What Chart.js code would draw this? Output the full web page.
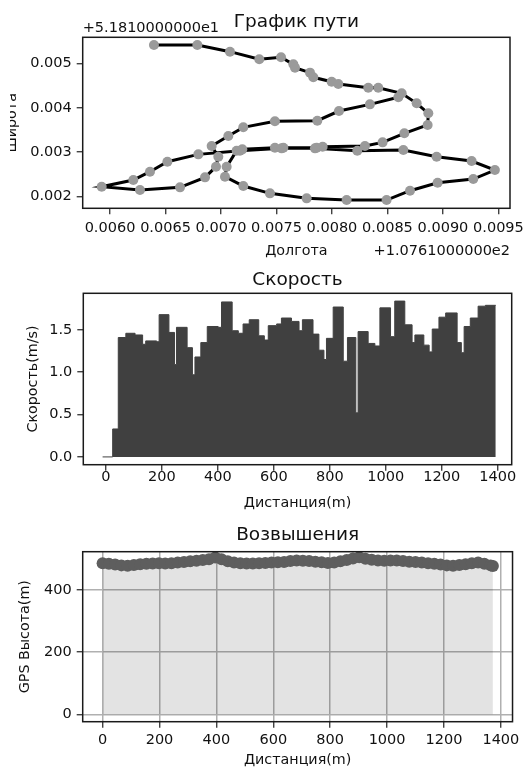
<!DOCTYPE html>
<html>
<head>
<meta charset="utf-8">
<title>GPS трек</title>
<script src="https://cdn.jsdelivr.net/npm/chart.js@4.4.1/dist/chart.umd.min.js"></script>
<style>
  html, body { margin: 0; padding: 0; background: #fff; }
  #page { position: relative; width: 523px; height: 769px; overflow: hidden; }
  canvas { position: absolute; }
</style>
</head>
<body>
<div id="page">
  <canvas id="pathChart" width="530" height="262" style="left:10px;top:0"></canvas>
  <canvas id="speedChart" width="523" height="255" style="left:0;top:262px"></canvas>
  <canvas id="elevChart" width="523" height="252" style="left:0;top:517px"></canvas>
</div>
<script>
// --- track (offsets from the base coordinates) ---
const lonBase = 107.61;
const latBase = 51.81;
const lonOffset = [
    0.006396, 0.006787, 0.007081, 0.007345, 0.007541, 0.007652, 0.007667, 0.007802, 0.007832, 0.007997,
    0.008057, 0.008327, 0.008417, 0.008628, 0.008763, 0.008868, 0.008862, 0.008652, 0.008456, 0.008297,
    0.007916, 0.007862, 0.007562, 0.007486, 0.007192, 0.007141, 0.007051, 0.007036, 0.007201, 0.007441,
    0.007772, 0.008132, 0.008492, 0.008703, 0.008952, 0.009273, 0.009468, 0.009258, 0.008943, 0.008643,
    0.008228, 0.007847, 0.007546, 0.007171, 0.006796, 0.006517, 0.006360, 0.006210, 0.005925, 0.006270,
    0.006631, 0.006856, 0.006955, 0.006976, 0.006916, 0.007066, 0.007201, 0.007486, 0.007868, 0.008063,
    0.008342, 0.008598
];
const latOffset = [
    0.005412, 0.005412, 0.005262, 0.005090, 0.005135, 0.004977, 0.004902, 0.004790, 0.004685, 0.004587,
    0.004535, 0.004452, 0.004452, 0.004325, 0.004100, 0.003875, 0.003612, 0.003425, 0.003222, 0.003140,
    0.003125, 0.003102, 0.003102, 0.003102, 0.003065, 0.003035, 0.002675, 0.002450, 0.002240, 0.002075,
    0.001963, 0.001925, 0.001925, 0.002135, 0.002315, 0.002397, 0.002600, 0.002802, 0.002900, 0.003050,
    0.003035, 0.003087, 0.003087, 0.003035, 0.002952, 0.002787, 0.002562, 0.002375, 0.002225, 0.002150,
    0.002210, 0.002435, 0.002675, 0.002900, 0.003140, 0.003365, 0.003560, 0.003695, 0.003710, 0.003927,
    0.004077, 0.004235
];
const lonTicks = [0.0060, 0.0065, 0.0070, 0.0075, 0.0080, 0.0085, 0.0090, 0.0095];
const latTicks = [0.002, 0.003, 0.004, 0.005];

// --- speed: step edges (m) and speed on each step (m/s) ---
const speedEdges = [
    -12, 24, 44, 71, 104, 131, 142, 181, 190, 225, 245, 252, 290, 309, 318, 339, 362, 401, 413, 451,
    473, 490, 512, 546, 566, 580, 610, 627, 663, 690, 702, 740, 761, 779, 788, 812, 848, 863, 893, 901,
    937, 961, 979, 1017, 1032, 1068, 1094, 1104, 1136, 1155, 1166, 1190, 1214, 1255, 1270, 1280, 1302, 1330, 1356, 1393
];
const speedValues = [
    0, 0.33, 1.41, 1.46, 1.44, 1.33, 1.37, 1.36, 1.68, 1.47, 1.09, 1.53, 1.29, 0.97, 1.18, 1.35, 1.54, 1.53, 1.83,
    1.49, 1.46, 1.57, 1.62, 1.43, 1.38, 1.55, 1.57, 1.64, 1.60, 1.49, 1.62, 1.45, 1.26, 1.15, 1.40, 1.77, 1.13,
    1.41, 0.52, 1.48, 1.34, 1.31, 1.76, 1.42, 1.84, 1.56, 1.35, 1.44, 1.32, 1.24, 1.51, 1.65, 1.70, 1.35, 1.23,
    1.54, 1.64, 1.78, 1.79
];
const speedTicks = [0.0, 0.5, 1.0, 1.5];
const distTicks = [0, 200, 400, 600, 800, 1000, 1200, 1400];

// --- elevation ---
const elevDist = [
    0, 22, 44, 66, 88, 110, 132, 154, 176, 198, 220, 242, 264, 286, 308, 330, 352, 374, 396, 418,
    440, 462, 484, 506, 528, 550, 572, 594, 616, 638, 660, 682, 704, 726, 748, 770, 792, 814, 836, 858,
    880, 902, 924, 946, 968, 990, 1012, 1034, 1056, 1078, 1100, 1122, 1144, 1166, 1188, 1210, 1232, 1254, 1276, 1298,
    1320, 1342, 1364, 1372
];
const elevValues = [
    486, 484, 482, 479, 478, 480, 483, 484, 485, 486, 485, 486, 488, 490, 492, 494, 496, 499, 504, 499,
    492, 488, 486, 485, 485, 486, 487, 488, 489, 490, 493, 495, 494, 493, 491, 489, 487, 488, 492, 496,
    501, 505, 500, 497, 495, 494, 495, 495, 493, 491, 490, 488, 486, 484, 482, 479, 478, 480, 483, 486,
    488, 484, 479, 477
];
const elevTicks = [0, 200, 400];

const FONT = 'DejaVu Sans';

function linearAxis({min, max, ticks, fmt, size, horizontal, title, titlePad, tickPad, grid}) {
    return {
        type: 'linear',
        min: min,
        max: max,
        afterBuildTicks: (scale) => {
            scale.ticks = ticks.map(v => ({value: v}));
        },
        afterFit: (scale) => {
            if (horizontal) {
                scale.height = size;
            } else {
                scale.width = size;
            }
        },
        ticks: {
            callback: fmt,
            color: '#111',
            font: {family: FONT, size: 14.5},
            padding: tickPad,
            autoSkip: false,
            maxRotation: 0
        },
        grid: {
            drawOnChartArea: !!grid,
            color: '#b0b0b0',
            lineWidth: 1.5,
            tickLength: 6,
            tickColor: '#222',
            tickWidth: 1.2
        },
        border: {display: false},
        title: {
            display: true,
            text: title,
            color: '#111',
            font: {family: FONT, size: 14.3},
            padding: titlePad
        }
    };
}

function chartTitle(text, top, bottom) {
    return {
        display: true,
        text: text,
        fullSize: false,
        color: '#111',
        font: {family: FONT, size: 18.5, weight: 'normal'},
        padding: {top: top, bottom: bottom}
    };
}

// black box around the plot area
const framePlugin = {
    id: 'frame',
    afterDatasetsDraw(chart) {
        const {ctx, chartArea: {left, top, right, bottom}} = chart;
        ctx.save();
        ctx.strokeStyle = '#1a1a1a';
        ctx.lineWidth = 1.5;
        ctx.strokeRect(left, top, right - left, bottom - top);
        ctx.restore();
    }
};

const sci = v => '+' + v.toExponential(10).replace('e+', 'e');

// axis offsets of the track plot
const offsetTextPlugin = {
    id: 'offsetText',
    afterDraw(chart) {
        const {ctx, chartArea} = chart;
        ctx.save();
        ctx.font = `14.5px "${FONT}"`;
        ctx.fillStyle = '#111';
        ctx.textBaseline = 'middle';
        ctx.textAlign = 'left';
        ctx.fillText(sci(latBase), chartArea.left, chartArea.top - 9.3);
        ctx.textAlign = 'right';
        ctx.fillText(sci(lonBase), chartArea.right, chartArea.bottom + 43);
        ctx.restore();
    }
};

const common = {
    responsive: false,
    animation: false,
    events: []
};

new Chart(document.getElementById('pathChart').getContext('2d'), {
    type: 'line',
    data: {
        datasets: [{
            data: lonOffset.map((x, i) => ({x: x, y: latOffset[i]})),
            borderColor: '#000',
            borderWidth: 3,
            pointRadius: 5,
            pointBackgroundColor: '#9a9a9a',
            pointBorderWidth: 0,
            tension: 0
        }]
    },
    options: {
        ...common,
        layout: {padding: {left: 0, top: 0, right: 30, bottom: 0}},
        scales: {
            x: linearAxis({min: 0.005754, max: 0.009604, ticks: lonTicks, fmt: v => v.toFixed(4),
                size: 53.7, horizontal: true, title: 'Долгота', titlePad: {top: 0, bottom: 2.6}, tickPad: 5}),
            y: linearAxis({min: 0.001739, max: 0.005585, ticks: latTicks, fmt: v => v.toFixed(3),
                size: 72.7, title: 'Широта', titlePad: {top: -5.8, bottom: 0}, tickPad: 5})
        },
        plugins: {
            legend: {display: false},
            tooltip: {enabled: false},
            title: chartTitle('График пути', 10.6, 4.5)
        }
    },
    plugins: [framePlugin, offsetTextPlugin]
});

// step area: each value holds until the next edge
const speedPoints = speedEdges.map((d, i) => ({x: d, y: speedValues[Math.min(i, speedValues.length - 1)]}));

new Chart(document.getElementById('speedChart').getContext('2d'), {
    type: 'line',
    data: {
        datasets: [{
            data: speedPoints,
            stepped: true,
            fill: 'origin',
            backgroundColor: '#404040',
            borderColor: '#404040',
            borderWidth: 1,
            pointRadius: 0
        }]
    },
    options: {
        ...common,
        layout: {padding: {left: 0, top: 0, right: 11.3, bottom: 0}},
        scales: {
            x: linearAxis({min: -81, max: 1450, ticks: distTicks, fmt: v => String(v),
                size: 52.3, horizontal: true, title: 'Дистанция(m)', titlePad: {top: 0, bottom: 4.9}, tickPad: -2}),
            y: linearAxis({min: -0.092, max: 1.932, ticks: speedTicks, fmt: v => v.toFixed(1),
                size: 83.3, title: 'Скорость(m/s)', titlePad: {top: 24.3, bottom: 0}, tickPad: 5})
        },
        plugins: {
            legend: {display: false},
            tooltip: {enabled: false},
            title: chartTitle('Скорость', 6.9, 2.2)
        }
    },
    plugins: [framePlugin]
});

new Chart(document.getElementById('elevChart').getContext('2d'), {
    type: 'line',
    data: {
        datasets: [{
            data: elevDist.map((d, i) => ({x: d, y: elevValues[i]})),
            showLine: false,
            fill: 'origin',
            backgroundColor: 'rgba(0, 0, 0, 0.11)',
            pointRadius: 6,
            pointBackgroundColor: '#5e5e5e',
            pointBorderWidth: 0
        }]
    },
    options: {
        ...common,
        layout: {padding: {left: 0, top: 0, right: 9.7, bottom: 0}},
        scales: {
            x: linearAxis({min: -70, max: 1441, ticks: distTicks, fmt: v => String(v),
                size: 47.3, horizontal: true, title: 'Дистанция(m)', titlePad: {top: 0, bottom: 0.2}, tickPad: 3.4, grid: true}),
            y: linearAxis({min: -23.8, max: 523, ticks: elevTicks, fmt: v => String(v),
                size: 82.7, title: 'GPS Высота(m)', titlePad: {top: 17, bottom: 0}, tickPad: 5, grid: true})
        },
        plugins: {
            legend: {display: false},
            tooltip: {enabled: false},
            title: chartTitle('Возвышения', 6.6, 5.9)
        }
    },
    plugins: [framePlugin]
});
</script>
</body>
</html>
